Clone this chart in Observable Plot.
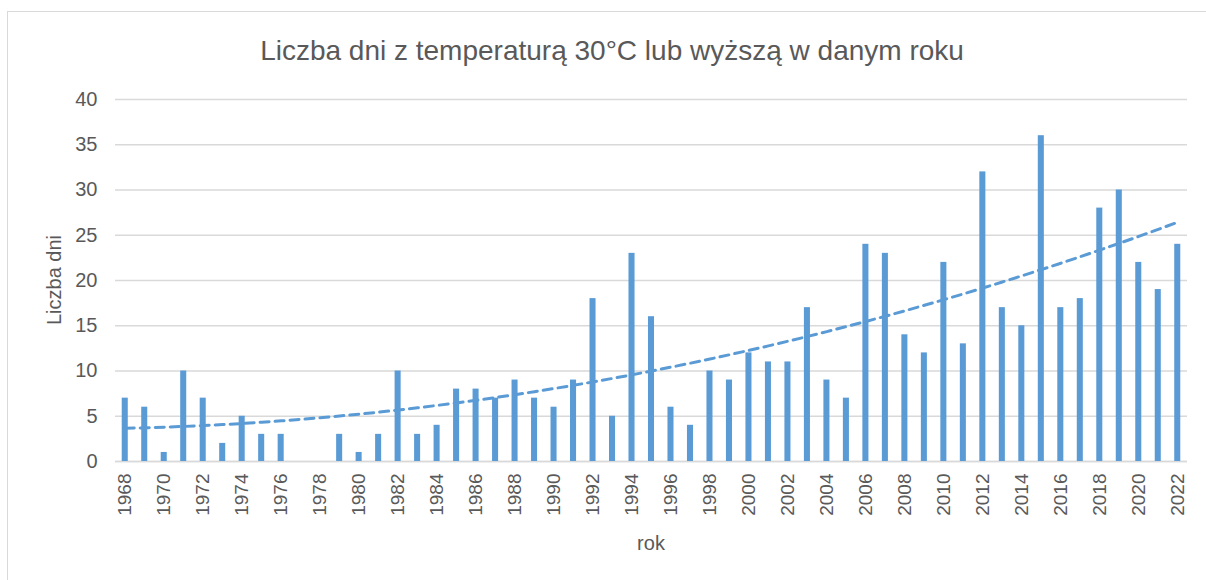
<!DOCTYPE html>
<html>
<head>
<meta charset="utf-8">
<script src="https://cdn.jsdelivr.net/npm/d3@7"></script>
<script src="https://cdn.jsdelivr.net/npm/@observablehq/plot@0.6"></script>
<style>
  html, body { margin: 0; padding: 0; background: #fff; width: 1206px; height: 580px; overflow: hidden; }
  body { position: relative; font-family: "Liberation Sans", Arial, sans-serif; }
  #frame { position: absolute; left: 7px; top: 11px; width: 1220px; height: 600px; border: 1.5px solid #d9d9d9; box-sizing: border-box; }
  #title { position: absolute; left: 0; width: 1224px; top: 35px; text-align: center; font-size: 28px; line-height: normal; color: #595959; }
  #chart { position: absolute; left: 0; top: 0; }
  #ylab { position: absolute; left: 54px; top: 280px; transform: translate(-50%, -50%) rotate(-90deg); font-size: 20px; color: #595959; white-space: nowrap; }
  #xlab { position: absolute; left: 0; width: 1302px; top: 532px; text-align: center; font-size: 20px; line-height: normal; color: #595959; }
</style>
</head>
<body>
<div id="frame"></div>
<div id="chart"></div>
<div id="title">Liczba dni z temperaturą 30°C lub wyższą w danym roku</div>
<div id="ylab">Liczba dni</div>
<div id="xlab">rok</div>
<script>
const years = [1968,1969,1970,1971,1972,1973,1974,1975,1976,1977,1978,1979,1980,1981,1982,1983,1984,1985,1986,1987,1988,1989,1990,1991,1992,1993,1994,1995,1996,1997,1998,1999,2000,2001,2002,2003,2004,2005,2006,2007,2008,2009,2010,2011,2012,2013,2014,2015,2016,2017,2018,2019,2020,2021,2022];
const days = [7,6,1,10,7,2,5,3,3,0,0,3,1,3,10,3,4,8,8,7,9,7,6,9,18,5,23,16,6,4,10,9,12,11,11,17,9,7,24,23,14,12,22,13,32,17,15,36,17,18,28,30,22,19,24];
const yTicks = [0,5,10,15,20,25,30,35,40];
const xTickYears = years.filter(y => y % 2 === 0);

const data = years.map((y, i) => ({year: y, days: days[i]}));

// Quadratic least-squares trend (as Excel's polynomial trendline), computed from the data
function quadFit(xs, ys) {
  let n = xs.length, s = [0,0,0,0,0], t = [0,0,0];
  for (let i = 0; i < n; i++) {
    const x = xs[i], y = ys[i];
    for (let k = 0; k <= 4; k++) s[k] += x ** k;
    for (let k = 0; k <= 2; k++) t[k] += y * x ** k;
  }
  const A = [[s[0], s[1], s[2], t[0]], [s[1], s[2], s[3], t[1]], [s[2], s[3], s[4], t[2]]];
  for (let c = 0; c < 3; c++) {
    for (let r = c + 1; r < 3; r++) {
      const f = A[r][c] / A[c][c];
      for (let k = c; k < 4; k++) A[r][k] -= f * A[c][k];
    }
  }
  const b = [0,0,0];
  for (let r = 2; r >= 0; r--) {
    let v = A[r][3];
    for (let k = r + 1; k < 3; k++) v -= A[r][k] * b[k];
    b[r] = v / A[r][r];
  }
  return x => b[0] + b[1] * x + b[2] * x * x;
}
const idx = years.map((_, i) => i + 1);
const f = quadFit(idx, days);
const trend = years.map((y, i) => ({year: y, value: f(i + 1)}));

const chart = Plot.plot({
  width: 1206,
  height: 580,
  marginLeft: 115,
  marginRight: 19,
  marginTop: 99,
  marginBottom: 119,
  style: {fontFamily: "'Liberation Sans', Arial, sans-serif", color: "#595959", background: "transparent"},
  x: {type: "band", domain: years, paddingInner: 0.69, paddingOuter: 0.345, round: false, label: null},
  y: {domain: [0, 40], label: null},
  marks: [
    Plot.gridY(yTicks, {stroke: "#d9d9d9", strokeOpacity: 1, strokeWidth: 1.3}),
    Plot.ruleY([0], {stroke: "#d9d9d9", strokeWidth: 1.3}),
    Plot.barY(data, {x: "year", y: "days", fill: "#5b9bd5"}),
    Plot.line(trend, {x: "year", y: "value", stroke: "#5b9bd5", strokeWidth: 3, strokeDasharray: "9,6", strokeLinecap: "round"}),
    Plot.axisY({ticks: yTicks, tickSize: 0, tickPadding: 18, fontSize: 20, label: null}),
    Plot.axisX({ticks: xTickYears, tickSize: 0, tickPadding: 12, tickRotate: -90, fontSize: 19, tickFormat: d => String(d), label: null})
  ]
});
document.getElementById("chart").appendChild(chart);
</script>
</body>
</html>
